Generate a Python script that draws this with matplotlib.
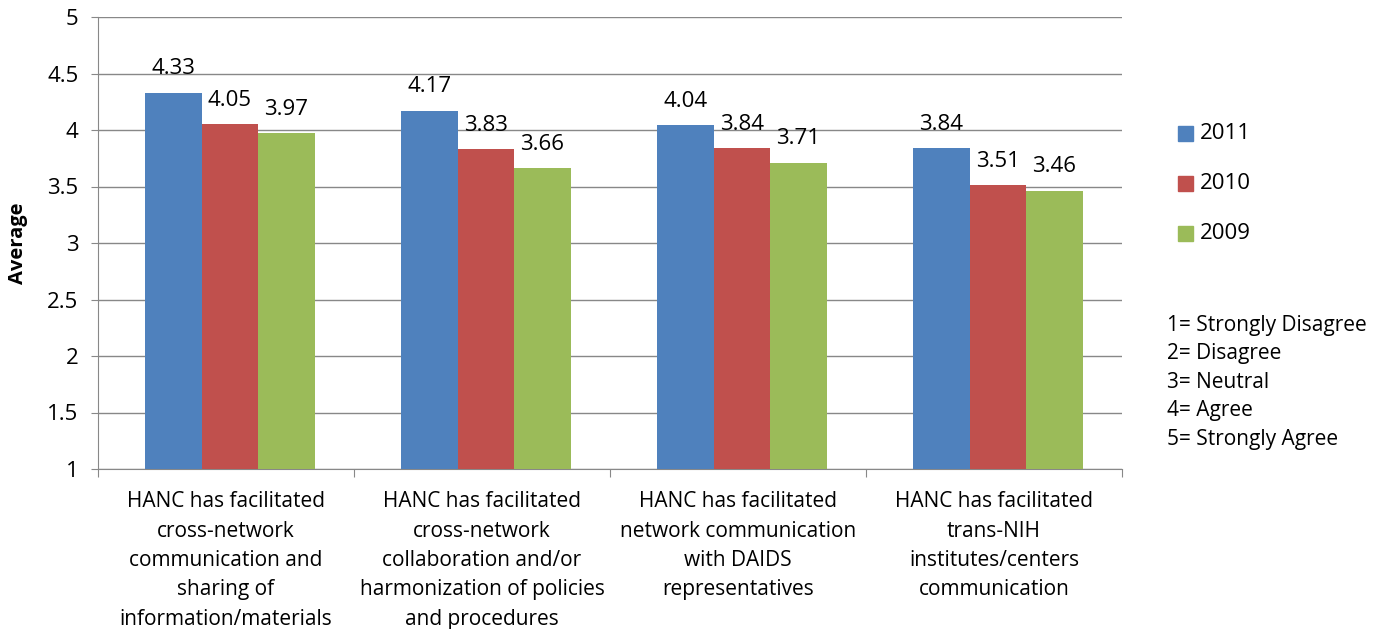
import matplotlib
matplotlib.use("Agg")
import matplotlib.pyplot as plt
import numpy as np
from matplotlib.patches import Rectangle

categories = [
    "HANC has facilitated\ncross-network\ncommunication and\nsharing of\ninformation/materials",
    "HANC has facilitated\ncross-network\ncollaboration and/or\nharmonization of policies\nand procedures",
    "HANC has facilitated\nnetwork communication\nwith DAIDS\nrepresentatives",
    "HANC has facilitated\ntrans-NIH\ninstitutes/centers\ncommunication",
]
series_names = ["2011", "2010", "2009"]
v2011 = [4.33, 4.17, 4.04, 3.84]
v2010 = [4.05, 3.83, 3.84, 3.51]
v2009 = [3.97, 3.66, 3.71, 3.46]
values = [v2011, v2010, v2009]
colors = ["#4F81BD", "#C0504D", "#9BBB59"]
yticks = [1, 1.5, 2, 2.5, 3, 3.5, 4, 4.5, 5]
ytick_labels = ["1", "1.5", "2", "2.5", "3", "3.5", "4", "4.5", "5"]
notes = ["1= Strongly Disagree", "2= Disagree", "3= Neutral", "4= Agree", "5= Strongly Agree"]

plt.rcParams['font.family'] = ['Open Sans', 'DejaVu Sans']

fig = plt.figure(figsize=(13.84, 6.29), dpi=100)
ax = fig.add_axes([98/1384, 1-469/629, (1122-98)/1384, (469-17)/629])

x = np.arange(len(categories))
w = 0.2207
for i, (vals, c) in enumerate(zip(values, colors)):
    pos = x + (i - 1) * w + 0.015
    ax.bar(pos, np.array(vals) - 1, bottom=1, width=w, color=c, zorder=3)
    for p, v in zip(pos, vals):
        ax.text(p, v + 0.12, f"{v:.2f}", ha="center", va="bottom", fontsize=16)

ax.set_xlim(-0.5, len(categories) - 0.5)
ax.set_ylim(1, 5)
ax.set_yticks(yticks)
ax.set_yticklabels(ytick_labels, fontsize=16)
ax.yaxis.grid(True, color="#888888", linewidth=1, zorder=0)
ax.set_axisbelow(True)
ax.set_ylabel("Average", fontsize=14.5, fontweight="bold")
ax.yaxis.set_label_coords(-70/1024, 0.5)

ax.set_xticks(np.arange(len(categories) + 1) - 0.5)
ax.set_xticklabels([])
ax.set_xticks(x, minor=True)
ax.set_xticklabels(categories, minor=True, fontsize=15, linespacing=1.52)
ax.tick_params(axis="x", which="minor", length=0, pad=16)
ax.tick_params(axis="x", which="major", length=6, color="#888888")
ax.tick_params(axis="y", length=5, color="#888888", pad=9)

for s in ["top", "right"]:
    ax.spines[s].set_visible(False)
for s in ["left", "bottom"]:
    ax.spines[s].set_color("#888888")

# legend
for i, (name, c) in enumerate(zip(series_names, colors)):
    yc = 1 - (133.5 + 50 * i) / 629
    fig.patches.append(Rectangle((1178/1384, yc - 7.5/629), 15/1384, 15/629,
                                 transform=fig.transFigure, color=c, figure=fig))
    fig.text(1200/1384, yc, name, va="center", ha="left", fontsize=16)

for i, n in enumerate(notes):
    fig.text(1167/1384, 1 - (325 + 28.5 * i) / 629, n, va="center", ha="left", fontsize=15)

fig.savefig("out.png", dpi=100)
